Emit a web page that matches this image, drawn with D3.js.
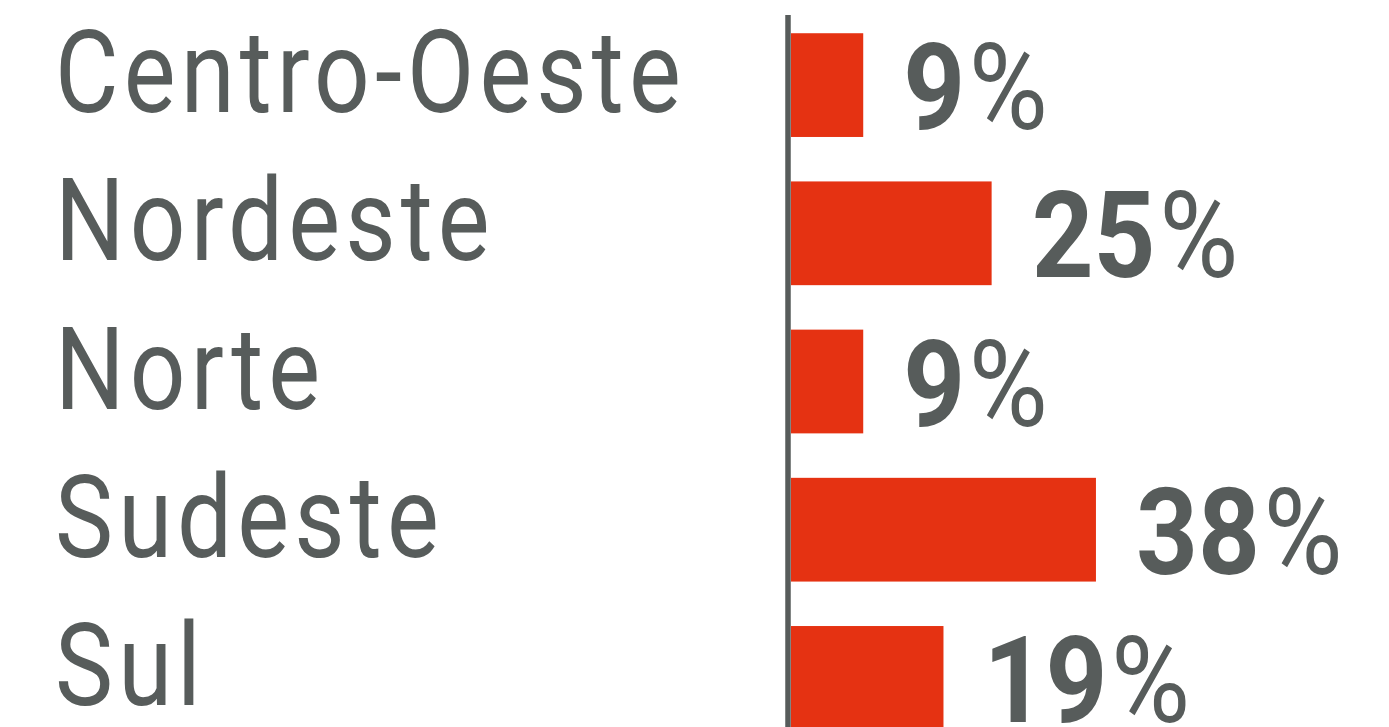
<!DOCTYPE html>
<html>
<head>
<meta charset="utf-8">
<script src="https://cdn.jsdelivr.net/npm/d3@7"></script>
<style>
  html, body { margin: 0; padding: 0; background: #ffffff; }
  svg { display: block; }
</style>
</head>
<body>
<svg id="chart"></svg>
<script>
// data
var REGIONS = ["Centro-Oeste", "Nordeste", "Norte", "Sudeste", "Sul"];
var SHARES = [9, 25, 9, 38, 19];

// layout
var WIDTH = 1389;
var HEIGHT = 727;
var AXIS_X = 788;
var BAR_COLOR = "#e53212";
var TEXT_COLOR = "#575c5b";

var svg = d3.select("#chart")
    .attr("width", WIDTH)
    .attr("height", HEIGHT);

var data = REGIONS.map((r, i) => ({ region: r, share: SHARES[i] }));

var xScale = d3.scaleLinear()
    .domain([0, 40])
    .range([791, 1112]);

var yScale = d3.scaleBand()
    .domain(REGIONS)
    .range([11, 752])
    .paddingInner(0.3)
    .paddingOuter(0.15);

// bars
svg.selectAll("rect.bar")
    .data(data)
    .enter()
    .append("rect")
        .attr("class", "bar")
        .attr("x", xScale(0))
        .attr("y", d => yScale(d.region))
        .attr("width", d => xScale(d.share) - xScale(0))
        .attr("height", yScale.bandwidth())
        .attr("fill", BAR_COLOR);

// vertical axis line
svg.append("line")
    .attr("x1", AXIS_X)
    .attr("x2", AXIS_X)
    .attr("y1", 15)
    .attr("y2", HEIGHT)
    .attr("stroke", TEXT_COLOR)
    .attr("stroke-width", 5.5);

// region labels
svg.selectAll("text.region")
    .data(data)
    .enter()
    .append("text")
        .attr("class", "region")
        .attr("transform", d => `translate(55, ${yScale(d.region) + yScale.bandwidth() / 2 + 27}) scale(0.85, 1)`)
        .attr("font-family", "Roboto, sans-serif")
        .attr("font-size", 115)
        .attr("letter-spacing", 6)
        .attr("fill", TEXT_COLOR)
        .text(d => d.region);

// value labels
var values = svg.selectAll("text.value")
    .data(data)
    .enter()
    .append("text")
        .attr("class", "value")
        .attr("transform", d => `translate(${xScale(d.share) + 40}, ${yScale(d.region) + yScale.bandwidth() / 2 + 44}) scale(0.9, 1)`)
        .attr("font-family", "Roboto, sans-serif")
        .attr("font-size", 120)
        .attr("fill", TEXT_COLOR);

values.append("tspan")
    .attr("font-weight", 700)
    .text(d => d.share);

values.append("tspan")
    .attr("font-weight", 400)
    .attr("dx", 4)
    .text("%");
</script>
</body>
</html>
